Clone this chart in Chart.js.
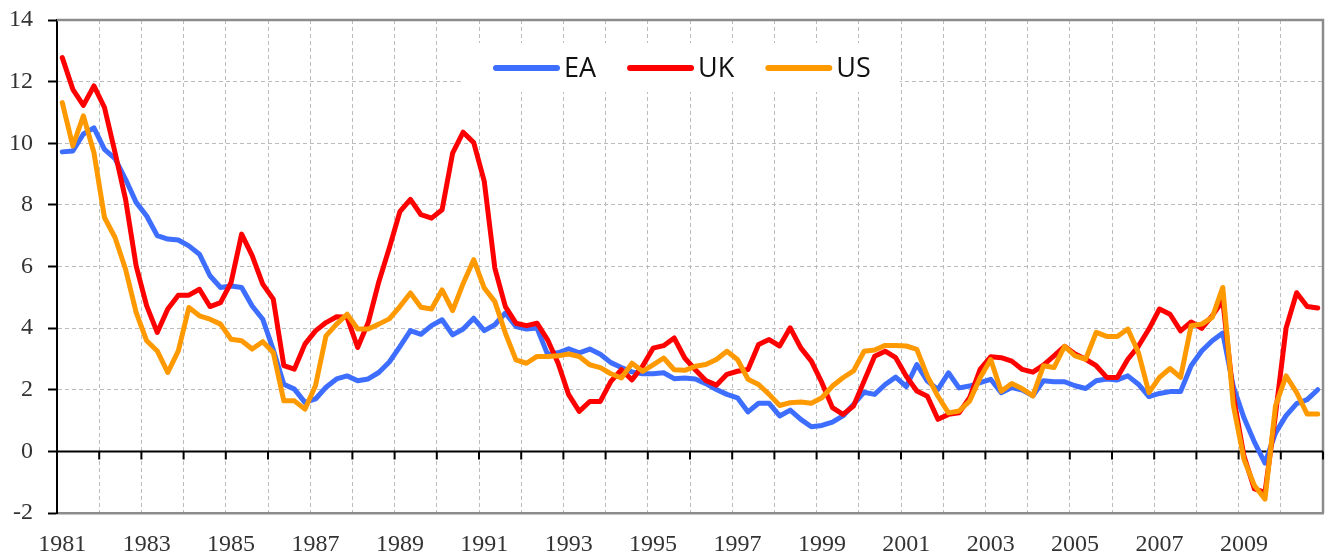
<!DOCTYPE html>
<html><head><meta charset="utf-8">
<script src="https://cdn.jsdelivr.net/npm/chart.js@4"></script>
<style>html,body{margin:0;padding:0;background:#fff}#wrap{width:1330px;height:560px;position:relative}</style>
</head><body><div id="wrap"><canvas id="c"></canvas></div>
<script>
// ---- data ----
const years = [];
for (let y = 1981; y <= 2010; y++) years.push(y);
const quarters = [];
years.forEach(y => { for (let q = 1; q <= 4; q++) quarters.push(y + 'Q' + q); });
const yTicks = [-2, 0, 2, 4, 6, 8, 10, 12, 14];
const seriesNames = ['EA', 'UK', 'US'];
const EA = [9.72,9.75,10.3,10.5, 9.8,9.5,8.83,8.08, 7.64,7.0,6.89,6.86, 6.67,6.4,5.7,5.32, 5.37,5.32,4.72,4.29, 3.3,2.18,2.02,1.59, 1.7,2.08,2.35,2.45, 2.29,2.35,2.56,2.9, 3.4,3.92,3.8,4.08, 4.27,3.78,3.97,4.32, 3.92,4.11,4.49,4.05, 3.97,4.0,3.15,3.2, 3.33,3.2,3.32,3.15, 2.88,2.72,2.58,2.52, 2.52,2.55,2.36,2.38, 2.35,2.2,2.01,1.85, 1.74,1.28,1.56,1.56, 1.15,1.34,1.04,0.8, 0.84,0.95,1.15,1.52, 1.92,1.85,2.17,2.41, 2.1,2.82,2.28,2.01, 2.55,2.06,2.12,2.23, 2.34,1.9,2.07,1.99, 1.8,2.29,2.26,2.26, 2.13,2.04,2.29,2.35, 2.32,2.45,2.18,1.78, 1.88,1.94,1.94,2.78, 3.26,3.59,3.84,2.1, 1.1,0.3,-0.38,0.6, 1.16,1.55,1.68,2.0];
const UK = [12.78,11.75,11.23,11.86, 11.16,9.7,8.18,6.02, 4.72,3.86,4.62,5.07, 5.07,5.26,4.7,4.83, 5.48,7.05,6.35,5.43, 4.94,2.78,2.67,3.48, 3.91,4.18,4.37,4.35, 3.37,4.18,5.5,6.6, 7.78,8.18,7.68,7.57, 7.84,9.68,10.36,10.02, 8.76,5.95,4.7,4.16, 4.08,4.16,3.62,2.86, 1.84,1.3,1.62,1.62, 2.27,2.65,2.32,2.76, 3.35,3.43,3.68,3.03, 2.65,2.3,2.15,2.5, 2.6,2.66,3.47,3.63, 3.42,4.01,3.36,2.93, 2.23,1.42,1.2,1.47, 2.28,3.09,3.25,3.04, 2.44,1.96,1.79,1.04, 1.2,1.25,1.74,2.66, 3.07,3.04,2.93,2.66, 2.57,2.8,3.1,3.41, 3.16,2.99,2.78,2.4, 2.4,2.99,3.41,3.97, 4.62,4.45,3.91,4.2, 3.99,4.4,4.9,1.8, -0.14,-1.22,-1.33,1.2, 4.0,5.15,4.7,4.65];
const US = [11.32,9.91,10.89,9.7, 7.59,6.94,5.91,4.51, 3.59,3.26,2.56,3.26, 4.67,4.4,4.29,4.13, 3.64,3.59,3.32,3.56, 3.21,1.64,1.64,1.37, 2.13,3.75,4.13,4.45, 3.97,3.97,4.13,4.3, 4.7,5.14,4.68,4.62, 5.24,4.57,5.45,6.22, 5.3,4.86,3.84,2.97, 2.86,3.08,3.08,3.1, 3.16,3.08,2.81,2.72, 2.52,2.38,2.86,2.6, 2.81,3.03,2.65,2.63, 2.76,2.82,2.98,3.25, 2.98,2.34,2.17,1.85, 1.49,1.58,1.6,1.56, 1.74,2.12,2.39,2.61, 3.25,3.29,3.44,3.44, 3.42,3.31,2.44,1.79, 1.25,1.31,1.63,2.39, 2.98,1.95,2.2,2.03, 1.8,2.78,2.72,3.41, 3.1,2.99,3.86,3.73, 3.73,3.97,3.21,1.91, 2.4,2.69,2.4,4.08, 4.13,4.35,5.32,1.5, -0.25,-1.11,-1.55,1.48, 2.45,1.91,1.21,1.21];

const COLORS = { EA: '#3d6eff', UK: '#ff0000', US: '#ff9900' };
const GRID = '#bcbcbc';
const FRAME = '#8c8c8c';

const deco = {
  id: 'deco',
  beforeDatasetsDraw(chart) {
    const { ctx, chartArea: a, scales: { x, y } } = chart;
    ctx.save();
    // frame top & right
    ctx.strokeStyle = FRAME; ctx.lineWidth = 2.5; ctx.setLineDash([]);
    ctx.beginPath();
    ctx.moveTo(a.left, a.top); ctx.lineTo(a.right, a.top); ctx.lineTo(a.right, a.bottom);
    ctx.stroke();
    // zero line + year tick marks
    const y0 = y.getPixelForValue(0);
    const half = (x.getPixelForValue(1) - x.getPixelForValue(0)) / 2;
    ctx.strokeStyle = '#000'; ctx.lineWidth = 2;
    ctx.beginPath();
    ctx.moveTo(a.left, y0); ctx.lineTo(a.right, y0);
    for (let i = 0; i <= quarters.length; i += 4) {
      const px = (i < quarters.length ? x.getPixelForValue(i) - half : x.getPixelForValue(i - 1) + half);
      ctx.moveTo(px, y0); ctx.lineTo(px, y0 + 8);
    }
    ctx.stroke();
    // legend
    const bx = 462, by = a.top + 23, bw = 438, bh = 49;
    ctx.fillStyle = '#fff';
    ctx.fillRect(bx, by, bw, bh);
    ctx.font = '27px "Open Sans", "Noto Sans", sans-serif';
    ctx.textBaseline = 'middle';
    ctx.textAlign = 'left';
    let lx = 493; const ly = by + 25;
    chart.data.datasets.forEach(ds => {
      ctx.strokeStyle = ds.borderColor; ctx.lineWidth = 6; ctx.lineCap = 'round';
      ctx.beginPath(); ctx.moveTo(lx + 3, ly); ctx.lineTo(lx + 64, ly); ctx.stroke();
      ctx.fillStyle = '#111';
      ctx.fillText(ds.label, lx + 71, ly + 1);
      lx += 71 + ctx.measureText(ds.label).width + 31;
    });
    ctx.restore();
  }
};

const series = { EA, UK, US };
new Chart(document.getElementById('c'), {
  type: 'line',
  data: {
    labels: quarters,
    datasets: seriesNames.map((n, k) => ({
      label: n,
      data: series[n],
      borderColor: COLORS[n],
      backgroundColor: COLORS[n],
      borderWidth: 5,
      pointRadius: 0,
      tension: 0,
      fill: false,
      borderJoinStyle: 'round',
      borderCapStyle: 'round',
      order: 2 - k
    }))
  },
  options: {
    responsive: true,
    maintainAspectRatio: false,
    animation: false,
    devicePixelRatio: 1,
    layout: { padding: { top: 20, right: 7, left: 0, bottom: 0 } },
    plugins: { legend: { display: false }, tooltip: { enabled: false } },
    scales: {
      x: {
        type: 'category',
        offset: true,
        grid: {
          offset: true,
          drawTicks: false,
          color: c => (c.index > 0 && c.index % 4 === 0) ? GRID : 'rgba(0,0,0,0)',
          lineWidth: 1
        },
        border: { display: true, color: FRAME, width: 2.5, dash: [4, 3] },
        ticks: {
          autoSkip: false, maxRotation: 0, minRotation: 0, padding: 17,
          color: '#333',
          font: { family: '"Liberation Serif", "DejaVu Serif", serif', size: 24 },
          callback: (v, i) => {
            const lab = quarters[i];
            const yr = parseInt(lab, 10);
            return (lab.endsWith('Q1') && (yr - 1981) % 2 === 0) ? String(yr) : '';
          }
        },
        afterFit: s => { s.height = 47; s.paddingLeft = 0; s.paddingRight = 0; }
      },
      y: {
        min: -2, max: 14,
        afterBuildTicks: s => { s.ticks = yTicks.map(v => ({ value: v })); },
        grid: {
          color: c => (c.tick && (c.tick.value === 14 || c.tick.value === -2 || c.tick.value === 0)) ? 'rgba(0,0,0,0)' : GRID,
          lineWidth: 1,
          drawTicks: true,
          tickLength: 9,
          tickColor: '#000',
          tickWidth: 2,
          tickBorderDash: []
        },
        border: { display: true, color: '#000', width: 2, dash: [4, 3] },
        ticks: {
          padding: 15,
          color: '#333',
          font: { family: '"Liberation Serif", "DejaVu Serif", serif', size: 24 },
          callback: v => String(v)
        },
        afterFit: s => { s.width = 57; s.paddingTop = 0; s.paddingBottom = 0; }
      }
    }
  },
  plugins: [deco]
});
</script></body></html>
